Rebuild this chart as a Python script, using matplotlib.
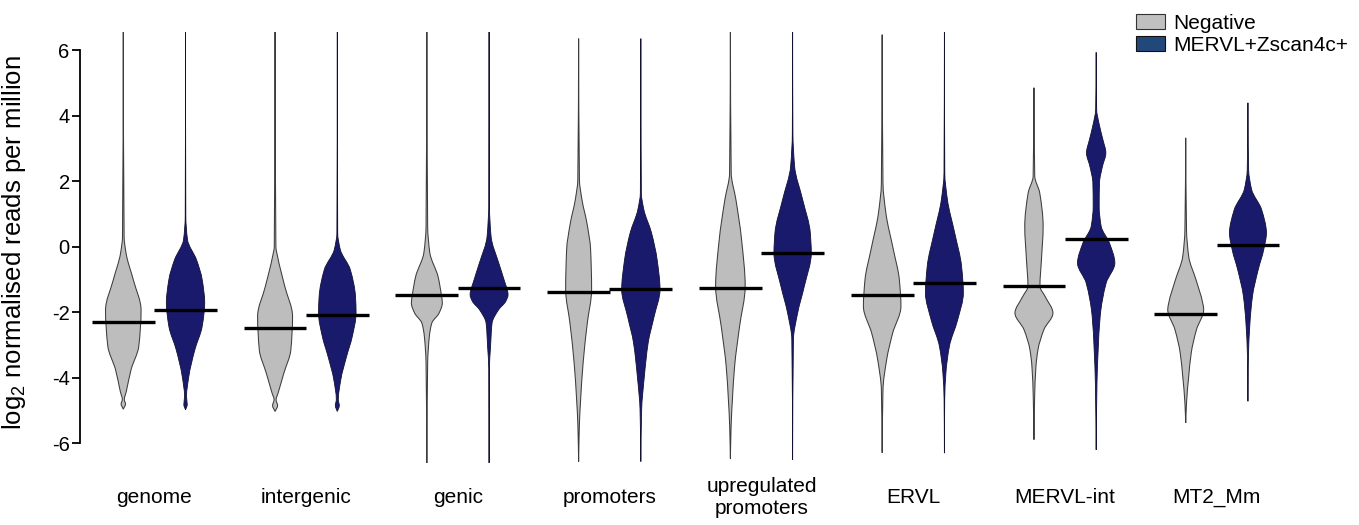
import numpy as np
import matplotlib.pyplot as plt
from matplotlib.patches import Patch, PathPatch
from matplotlib.path import Path

plt.rcParams['font.family'] = ['Liberation Sans', 'DejaVu Sans']
plt.rcParams['mathtext.fontset'] = 'custom'
plt.rcParams['mathtext.rm'] = 'Liberation Sans'
plt.rcParams['axes.unicode_minus'] = False

categories = ['genome', 'intergenic', 'genic', 'promoters',
              'upregulated\npromoters', 'ERVL', 'MERVL-int', 'MT2_Mm']

# medians (log2 RPM)
neg_median = [-2.31, -2.49, -1.48, -1.39, -1.27, -1.48, -1.21, -2.06]
pos_median = [-1.94, -2.09, -1.27, -1.30, -0.20, -1.11, 0.23, 0.05]

# density profiles: levels (log2 RPM) and relative half-widths
neg_levels = [
    [-4.96, -4.80, -4.67, -4.42, -3.75, -3.04, -1.94, -1.01, -0.19, 0.31, 6.6],
    [-5.03, -4.85, -4.67, -4.47, -3.86, -3.15, -2.13, -1.21, -0.30, 0.0, 6.6],
    [-6.6, -3.55, -2.74, -2.33, -2.03, -1.72, -1.47, -0.91, -0.19, 0.62, 6.6],
    [-6.56, -5.49, -4.67, -3.55, -2.33, -1.31, -0.09, 0.72, 1.44, 2.05, 6.35],
    [-6.47, -5.49, -4.67, -3.66, -2.43, -1.21, 0.21, 1.44, 2.25, 6.6],
    [-6.29, -4.37, -3.45, -2.64, -1.82, -1.01, -0.09, 1.03, 1.94, 6.47],
    [-5.89, -4.57, -3.66, -3.15, -2.53, -2.03, -1.52, -1.21, -0.40, 0.62, 1.64, 2.15, 4.85],
    [-5.38, -4.77, -3.96, -3.25, -2.53, -1.92, -1.72, -1.01, -0.30, 0.52, 3.32],
]
neg_widths = [
    [0, 2.2, 1.0, 3.0, 7.8, 15.5, 17.8, 10.0, 2.7, 0.8, 0],
    [0, 2.5, 1.0, 3.0, 8.8, 15.8, 17.5, 9.7, 2.5, 0.8, 0],
    [0, 0.8, 2.5, 5.0, 12.2, 15.5, 14.5, 11.2, 3.0, 0.8, 0],
    [0, 0.7, 2.0, 4.5, 8.7, 13.0, 12.0, 8.3, 3.3, 0.8, 0],
    [0, 0.7, 2.0, 4.2, 9.2, 14.8, 11.2, 5.5, 0.8, 0],
    [0, 0.8, 4.5, 10.5, 18.8, 17.2, 11.2, 3.7, 0.8, 0],
    [0, 0.7, 2.0, 4.0, 10.0, 19.0, 11.2, 6.0, 7.5, 9.2, 5.8, 0.8, 0],
    [0, 0.8, 3.0, 5.5, 10.8, 18.0, 17.0, 10.3, 3.0, 0.8, 0],
]
pos_levels = [
    [-4.98, -4.82, -4.57, -3.96, -3.15, -2.43, -1.72, -1.01, -0.40, 0.21, 0.93, 6.6],
    [-5.03, -4.85, -4.67, -4.06, -3.35, -2.74, -2.03, -1.52, -0.70, -0.09, 0.42, 6.6],
    [-6.6, -3.76, -3.04, -2.33, -1.92, -1.67, -1.47, -1.01, -0.50, 0.31, 1.33, 6.6],
    [-6.56, -4.98, -3.96, -2.94, -2.13, -1.31, -0.40, 0.42, 1.13, 1.64, 6.35],
    [-6.5, -2.84, -2.03, -1.21, -0.19, 0.42, 1.44, 2.45, 3.47, 6.6],
    [-6.3, -4.67, -3.86, -3.04, -2.23, -1.41, -0.60, 0.42, 1.44, 2.25, 6.6],
    [-6.2, -4.16, -3.15, -2.13, -1.11, -0.50, 0.11, 0.62, 1.23, 1.94, 2.45, 2.86, 3.27, 3.78, 4.18, 5.93],
    [-4.72, -3.35, -2.33, -1.52, -0.70, -0.09, 0.42, 1.13, 1.74, 2.35, 4.39],
]
pos_widths = [
    [0, 1.7, 1.0, 3.3, 9.3, 16.7, 19.2, 16.7, 11.0, 2.0, 0.3, 0],
    [0, 2.0, 1.0, 3.5, 9.3, 15.0, 18.8, 18.2, 13.0, 3.0, 0.4, 0],
    [0, 0.3, 1.5, 3.0, 9.7, 16.7, 19.0, 15.0, 9.7, 2.0, 0.3, 0],
    [0, 0.8, 3.5, 7.3, 13.3, 19.2, 16.3, 10.7, 3.0, 0.5, 0],
    [0, 0.8, 5.0, 11.7, 18.7, 17.7, 10.0, 2.0, 0.3, 0],
    [0, 0.3, 1.5, 5.0, 13.3, 19.0, 17.2, 10.3, 3.0, 0.4, 0],
    [0, 0.8, 2.0, 4.0, 10.0, 18.7, 13.3, 5.0, 3.0, 3.3, 6.3, 9.7, 6.7, 2.7, 0.5, 0],
    [0, 0.5, 2.0, 4.5, 10.3, 15.8, 18.5, 13.7, 3.7, 0.7, 0],
]

NEG_COLOR = '#bdbdbd'
POS_COLOR = '#1a1a6c'
WIDTH_SCALE = 1 / 152.0
OFFSET = 0.205
FS = 15


def slopes(y, w):
    # shape-preserving (Fritsch-Carlson) tangents, so the outline never overshoots
    h = np.diff(y)
    d = np.diff(w) / h
    m = np.zeros_like(w)
    m[0], m[-1] = d[0], d[-1]
    for k in range(1, len(w) - 1):
        if d[k - 1] * d[k] > 0:
            a = 2 * h[k] + h[k - 1]
            b = h[k] + 2 * h[k - 1]
            m[k] = (a + b) / (a / d[k - 1] + b / d[k])
    return m


def side_verts(x, y, w, sign):
    m = slopes(y, w)
    verts = [(x + sign * w[0], y[0])]
    for k in range(len(y) - 1):
        h = y[k + 1] - y[k]
        verts.append((x + sign * (w[k] + m[k] * h / 3), y[k] + h / 3))
        verts.append((x + sign * (w[k + 1] - m[k + 1] * h / 3), y[k + 1] - h / 3))
        verts.append((x + sign * w[k + 1], y[k + 1]))
    return verts


def draw_violin(ax, x, levels, widths, median, face, edge, lw):
    y = np.array(levels, dtype=float)
    w = np.array(widths, dtype=float) * WIDTH_SCALE
    right = side_verts(x, y, w, 1)
    left = side_verts(x, y, w, -1)[::-1]
    verts = right + left[1:] + [right[0]]
    codes = ([Path.MOVETO] + [Path.CURVE4] * (len(right) - 1)
             + [Path.CURVE4] * (len(left) - 1) + [Path.CLOSEPOLY])
    ax.add_patch(PathPatch(Path(verts, codes), facecolor=face, edgecolor=edge,
                           linewidth=lw, zorder=2))
    ax.hlines(median, x - 0.207, x + 0.207, color='black', linewidth=2.4, zorder=3)


fig = plt.figure(figsize=(13.59, 5.25), dpi=100)
ax = fig.add_axes([0.0589, 0.112, 0.937, 0.827])

for i in range(len(categories)):
    draw_violin(ax, i - OFFSET, neg_levels[i], neg_widths[i], neg_median[i],
                NEG_COLOR, '#3c3c3c', 0.75)
    draw_violin(ax, i + OFFSET, pos_levels[i], pos_widths[i], pos_median[i],
                POS_COLOR, '#111133', 0.6)
    ax.text(i, -0.071, categories[i], transform=ax.get_xaxis_transform(),
            ha='center', va='center', fontsize=FS, linespacing=1.2)

ax.set_xlim(-0.49, 7.9)
ax.set_ylim(-6.7, 6.55)
ax.set_yticks(np.arange(-6, 7, 2))
ax.set_xticks([])
ax.tick_params(axis='y', labelsize=14.5, length=6, width=1.3, pad=1.5)
for side in ['top', 'right', 'bottom']:
    ax.spines[side].set_visible(False)
ax.spines['left'].set_bounds(-6, 6)
ax.spines['left'].set_linewidth(1.3)
ax.set_ylabel(r'log$_\mathregular{2}$ normalised reads per million', fontsize=18.5, labelpad=4)
ax.yaxis.set_label_coords(-0.0405, 0.515)

handles = [Patch(facecolor='#c0c0c0', edgecolor='#333333', linewidth=0.8, label='Negative'),
           Patch(facecolor='#22477a', edgecolor='#111111', linewidth=0.8, label='MERVL+Zscan4c+')]
fig.legend(handles=handles, loc='upper left', bbox_to_anchor=(1136 / 1359, 1 - 14 / 525),
           frameon=False, fontsize=FS, handlelength=1.4, handleheight=0.7,
           handletextpad=0.4, labelspacing=0.14, borderpad=0, borderaxespad=0)

fig.savefig('out.png', dpi=100)
